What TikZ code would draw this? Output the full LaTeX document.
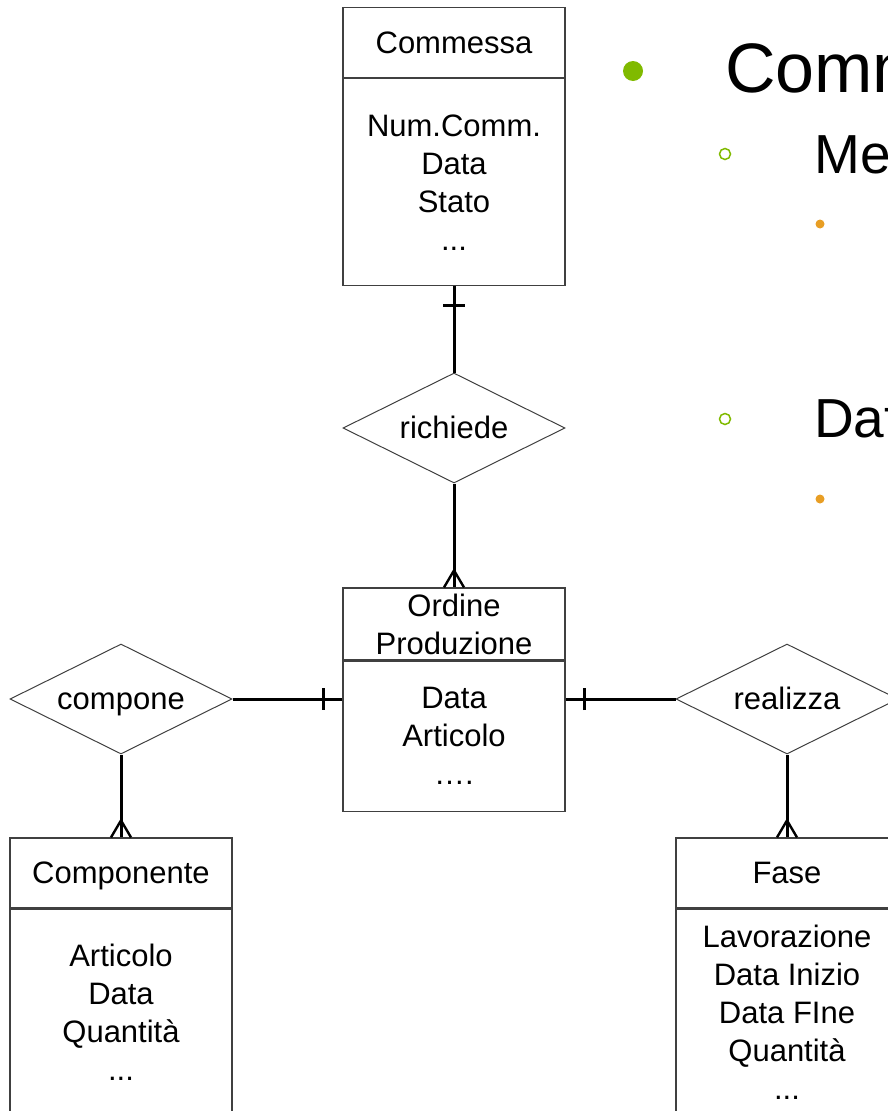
\documentclass[tikz,border=0pt]{standalone}
\usepackage{fontspec}
\setmainfont{Liberation Sans}
\usepackage{xcolor}
\usetikzlibrary{positioning}
\usetikzlibrary{shapes.geometric}
\usetikzlibrary{decorations.markings}
\definecolor{bulletgreen}{RGB}{128,186,0}
\definecolor{bulletorange}{RGB}{232,158,36}
\tikzset{
    entity/.style={draw=black!75, line width=1.2pt, minimum width=222pt, inner sep=0pt,
        align=center, font=\fontsize{31}{38}\selectfont},
    onetitle/.style={entity, minimum height=70pt, text height=25pt, text depth=4pt},
    relation/.style={diamond, draw=black!75, line width=1pt, minimum width=222pt,
        minimum height=110pt, inner sep=0pt,
        label={[font=\fontsize{31}{38}\selectfont, text height=25pt, text depth=4pt]center:#1}},
    link/.style={line width=3pt},
    onebar/.style={postaction={decorate}, decoration={markings,
        mark=at position 19pt with {\draw[line width=3pt] (0,-11pt) -- (0,11pt);}}},
    crowfoot/.style={postaction={decorate}, decoration={markings,
        mark=at position 1 with {\draw[line width=2.4pt] (-17pt,0) -- (0,10pt) (-17pt,0) -- (0,-10pt);}}},
    bigtext/.style={anchor=base west, inner sep=0pt}}

\begin{document}
\begin{tikzpicture}[x=1pt, y=-1pt]
        \useasboundingbox (0,0) rectangle (888,1111);

            \node[onetitle] (cmhead) at (454,42.5) {Commessa};
            \node[entity, minimum height=207pt, below=0pt of cmhead] (cmbody) {Num.Comm.\\Data\\Stato\\...};

            \node[relation=richiede] (richiede) at (454,428) {};

            \node[entity, minimum height=72pt] (ophead) at (454,624) {Ordine\\Produzione};
            \node[entity, minimum height=150pt, below=0pt of ophead] (opbody) {Data\\Articolo\\….};

            \node[relation=compone] (compone) at (121,699) {};
            \node[relation=realizza] (realizza) at (787,699) {};

            \node[onetitle] (cphead) at (121,873) {Componente};
            \node[entity, minimum height=207pt, below=0pt of cphead] (cpbody) {Articolo\\Data\\Quantità\\...};

            \node[onetitle] (fshead) at (787,873) {Fase};
            \node[entity, minimum height=207pt, below=0pt of fshead] (fsbody) {Lavorazione\\Data Inizio\\Data FIne\\Quantità\\...};

            \draw[link, onebar] (cmbody) -- (richiede);
            \draw[link, crowfoot] (richiede) -- (ophead);
            \draw[link, onebar] (compone -| opbody.west) -- (compone);
            \draw[link, onebar] (realizza -| opbody.east) -- (realizza);
            \draw[link, crowfoot] (compone) -- (cphead);
            \draw[link, crowfoot] (realizza) -- (fshead);

            \fill[bulletgreen] (633,71) circle (10pt);
            \node[bigtext, font=\fontsize{70}{84}\selectfont] (title) at (725,92) {Comm};
            \draw[bulletgreen, line width=1.5pt] (725,154) circle (5.5pt);
            \node[bigtext, font=\fontsize{55}{66}\selectfont] (sub1) at (814,173) {Me};
            \fill[bulletorange] (820,224) circle (4.5pt);
            \draw[bulletgreen, line width=1.5pt] (725,419) circle (5.5pt);
            \node[bigtext, font=\fontsize{55}{66}\selectfont] (sub2) at (814,437) {Dat};
            \fill[bulletorange] (820,499) circle (4.5pt);

        \end{tikzpicture}
\end{document}
